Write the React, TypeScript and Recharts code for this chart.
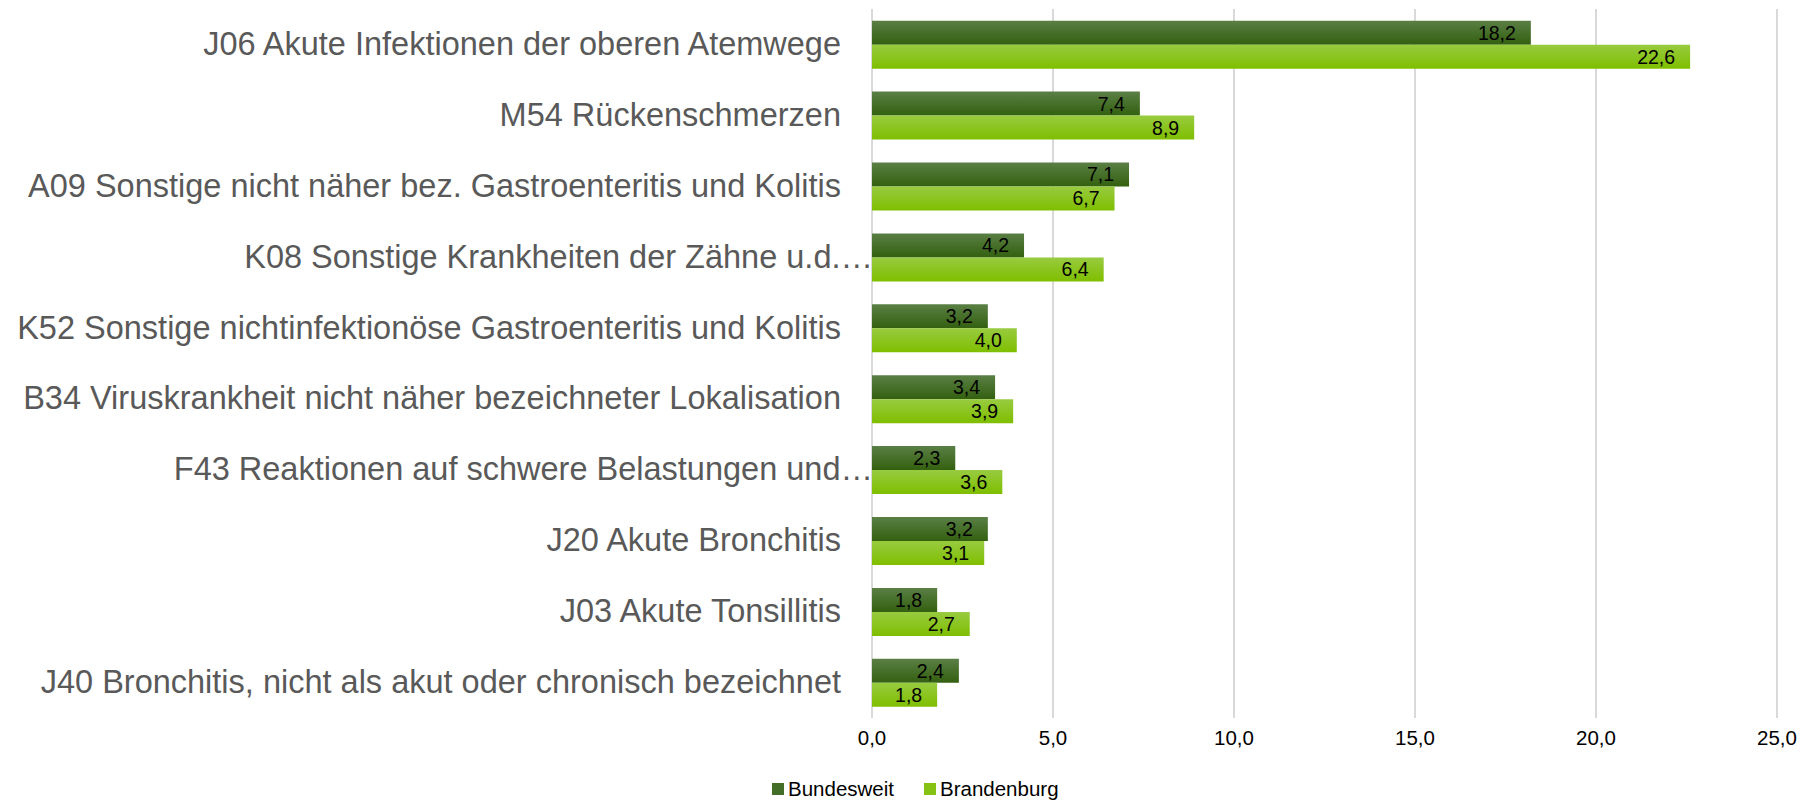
import { Bar, BarChart, CartesianGrid, LabelList, XAxis, YAxis } from 'recharts';

const CATEGORIES = [
  'J06 Akute Infektionen der oberen Atemwege',
  'M54 Rückenschmerzen',
  'A09 Sonstige nicht näher bez. Gastroenteritis und Kolitis',
  'K08 Sonstige Krankheiten der Zähne u.d.…',
  'K52 Sonstige nichtinfektionöse Gastroenteritis und Kolitis',
  'B34 Viruskrankheit nicht näher bezeichneter Lokalisation',
  'F43 Reaktionen auf schwere Belastungen und…',
  'J20 Akute Bronchitis',
  'J03 Akute Tonsillitis',
  'J40 Bronchitis, nicht als akut oder chronisch bezeichnet',
];
const BUNDESWEIT = [18.2, 7.4, 7.1, 4.2, 3.2, 3.4, 2.3, 3.2, 1.8, 2.4];
const BRANDENBURG = [22.6, 8.9, 6.7, 6.4, 4.0, 3.9, 3.6, 3.1, 2.7, 1.8];
const X_TICKS = [0, 5, 10, 15, 20, 25];

const SERIES = [
  { key: 'bund', name: 'Bundesweit', top: '#5a7f45', bottom: '#33600f', swatch: '#426e27', legendX: 772 },
  { key: 'bb', name: 'Brandenburg', top: '#98cb40', bottom: '#7fbe00', swatch: '#86c213', legendX: 924 },
];

const data = CATEGORIES.map((name, i) => ({ name, bund: BUNDESWEIT[i], bb: BRANDENBURG[i] }));

const FONT = '"Liberation Sans", Arial, sans-serif';
const de = (v: number) => v.toFixed(1).replace('.', ',');

function CategoryTick({ x, y, payload }: any) {
  const label: string = payload.value;
  // truncated labels run their ellipsis up to the axis
  const ax = label.endsWith('…') ? x + 9 : x - 23;
  return (
    <text x={ax} y={y + 10.5} textAnchor="end" fontSize={32.5} fill="#595959" fontFamily={FONT}>
      {label}
    </text>
  );
}

function ValueTick({ x, y, payload }: any) {
  return (
    <text x={x} y={y + 18.5} textAnchor="middle" fontSize={20.5} fill="#000" fontFamily={FONT}>
      {de(payload.value)}
    </text>
  );
}

function EndLabel({ x, y, width, height, value }: any) {
  return (
    <text x={x + width - 15} y={y + height / 2 + 7} textAnchor="end" fontSize={19.5} fill="#000" fontFamily={FONT}>
      {de(value)}
    </text>
  );
}

export default function App() {
  return (
    <div style={{ position: 'relative', width: 1809, height: 800, background: '#fff', fontFamily: FONT }}>
      <style>{'body{margin:0}'}</style>
      <BarChart
        width={1809}
        height={800}
        data={data}
        layout="vertical"
        margin={{ top: 9, right: 32, bottom: 0, left: 0 }}
        barCategoryGap="16.5%"
        barGap={0}
      >
        <defs>
          {SERIES.map((s) => (
            <linearGradient key={s.key} id={`g-${s.key}`} x1="0" y1="0" x2="0" y2="1">
              <stop offset="0%" stopColor={s.top} />
              <stop offset="100%" stopColor={s.bottom} />
            </linearGradient>
          ))}
        </defs>
        <CartesianGrid horizontal={false} stroke="#d9d9d9" strokeWidth={2} />
        <XAxis
          type="number"
          domain={[0, 25]}
          ticks={X_TICKS}
          axisLine={false}
          tickLine={false}
          height={82}
          tick={<ValueTick />}
          interval={0}
        />
        <YAxis
          type="category"
          dataKey="name"
          width={872}
          axisLine={false}
          tickLine={false}
          tick={<CategoryTick />}
          interval={0}
        />
        {SERIES.map((s) => (
          <Bar key={s.key} dataKey={s.key} name={s.name} fill={`url(#g-${s.key})`} isAnimationActive={false}>
            <LabelList dataKey={s.key} content={<EndLabel />} />
          </Bar>
        ))}
      </BarChart>
      {SERIES.map((s) => (
        <div
          key={s.key}
          style={{
            position: 'absolute',
            top: 777,
            left: s.legendX,
            display: 'flex',
            alignItems: 'center',
            fontSize: 20.5,
            color: '#000',
            whiteSpace: 'nowrap',
          }}
        >
          <span style={{ width: 12, height: 12, background: s.swatch, marginRight: 4, display: 'inline-block' }} />
          <span>{s.name}</span>
        </div>
      ))}
    </div>
  );
}
